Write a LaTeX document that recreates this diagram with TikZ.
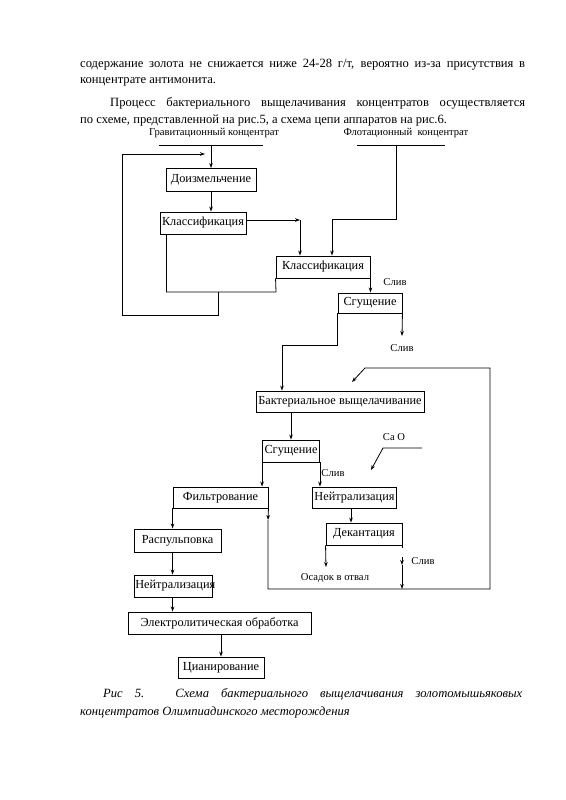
\documentclass[tikz,border=0pt]{standalone}
\usepackage{fontspec}
\setmainfont{Liberation Serif}
\usetikzlibrary{arrows.meta,calc}
\begin{document}
\begin{tikzpicture}[x=1pt,y=-1pt,
  box/.style={draw,line width=0.9pt,inner sep=0pt,font=\fontsize{12.3}{13}\selectfont},
  ln/.style={line width=0.8pt},
  arr/.style={ln,-{Stealth[length=5pt,width=3.6pt]}},
  lbl/.style={font=\fontsize{10.6}{11}\selectfont,inner sep=0pt},
  para/.style={font=\fontsize{12.6}{14}\selectfont,inner sep=0pt,anchor=base west},
  captxt/.style={font=\fontsize{12.6}{14}\selectfont\itshape,inner sep=0pt,anchor=base west}]
\useasboundingbox[fill=white] (0,0) rectangle (565,800);

% --- paragraph text ---
\node[para] (p1) at (80,67) {\makebox[445pt][s]{содержание золота не снижается ниже 24-28 г/т, вероятно из-за присутствия в}};
\node[para] (p2) at (80,84) {концентрате антимонита.};
\node[para] (p3) at (110,106) {\makebox[415pt][s]{Процесс бактериального выщелачивания концентратов осуществляется}};
\node[para] (p4) at (80,123) {по схеме, представленной на рис.5, а схема цепи аппаратов на рис.6.};

% --- feeds ---
\node[lbl] (grav) at (214,133) {Гравитационный концентрат};
\node[lbl] (flot) at (406,133) {Флотационный\ \ концентрат};
\coordinate (gA) at (159,145); \coordinate (gB) at (263,145);
\coordinate (g0) at (211,145);
\draw[ln] (gA) -- (gB);
\coordinate (fA) at (357,145); \coordinate (fB) at (445,145);
\coordinate (f0) at (396,145);
\draw[ln] (fA) -- (fB);

% --- boxes ---
\node[box,minimum width=90pt,minimum height=23pt] (doiz) at (211,180) {Доизмельчение};
\node[box,minimum width=86pt,minimum height=22pt] (kl1) at (203,223) {Классификация};
\node[box,minimum width=94pt,minimum height=22pt] (kl2) at (323,267) {Классификация};
\node[box,minimum width=64pt,minimum height=20pt] (sg1) at (370,303) {Сгущение};
\node[box,minimum width=168pt,minimum height=21pt] (bakt) at (340,401.5) {Бактериальное выщелачивание};
\node[box,minimum width=57pt,minimum height=22pt] (sg2) at (291,451) {Сгущение};
\node[box,minimum width=95pt,minimum height=21pt] (filt) at (220.5,497.5) {Фильтрование};
\node[box,minimum width=84pt,minimum height=21pt] (neut) at (354.5,497.5) {Нейтрализация};
\node[box,minimum width=76pt,minimum height=22pt] (dek) at (364,534) {Декантация};
\node[box,minimum width=87pt,minimum height=23pt] (rasp) at (177.5,540.5) {Распульповка};
\node[box,minimum width=78pt,minimum height=22pt] (neut2) at (173,586) {};
\node[anchor=west,inner sep=0pt,font=\fontsize{12.3}{13}\selectfont] (neut2t) at ([xshift=1.5pt]neut2.west) {Нейтрализация};
\node[box,minimum width=183pt,minimum height=22pt] (elek) at (219.5,623) {Электролитическая обработка};
\node[box,minimum width=86pt,minimum height=21pt] (cian) at (221,667.5) {Цианирование};

% --- labels ---
\node[lbl] (sliv1) at (395,282) {Слив};
\node[lbl] (sliv2) at (402,348) {Слив};
\node[lbl] (cao) at (394,437) {Ca O};
\node[lbl] (sliv3) at (333,473) {Слив};
\node[lbl] (osad) at (335,578) {Осадок в отвал};
\node[lbl] (sliv4) at (423,561) {Слив};

% --- coordinates ---
\coordinate (c1) at (276,292);
\coordinate (c2) at (218,292);
\coordinate (c3) at (122,315);
\coordinate (c4) at (205,154);
\coordinate (c5) at (300,220);
\coordinate (f2) at (332,219);
\coordinate (s1) at (402,336);
\coordinate (c6) at (282,345);
\coordinate (c7) at (268,520);
\coordinate (c8) at (490,589);
\coordinate (c9) at (365,368);
\coordinate (c10) at (352,382);
\coordinate (ca1) at (422,448);
\coordinate (ca2) at (383,448);
\coordinate (ca3) at (371,470);
\coordinate (d1) at (326,567);
\coordinate (d0) at (402,557);
\coordinate (d2) at (402,565);
\coordinate (d3) at (402,589);

% --- connectors ---
\draw[arr] (g0) -- (doiz.north);
\draw[arr] (doiz.south) -- (doiz.south |- kl1.north);
\draw[ln] ([xshift=7pt]kl1.south west) |- (c1) -- (kl2.south west);
\draw[arr] (c2) |- (c3) |- (c4);
\draw[arr] (kl1.east |- c5) -- (c5);
\draw[arr] (c5) -- (c5 |- kl2.north);
\draw[arr] (f0) |- (f2) -- (f2 |- kl2.north);
\draw[arr] (kl2.south east) -- (kl2.south east |- sg1.north);
\draw[arr] (sg1.south east) -- (s1);
\draw[arr] (sg1.south west) |- (c6) -- (c6 |- bakt.north);
\draw[arr] (bakt.south -| sg2.north) -- (sg2.north);
\draw[arr] (sg2.south west) -- (sg2.south west |- filt.north);
\draw[arr] (sg2.south east) -- (sg2.south east |- neut.north);
\draw[arr] (ca1) -- (ca2) -- (ca3);
\draw[arr] (filt.south east) -- (c7);
\draw[arr] (c7) |- (c8) |- (c9) -- (c10);
\draw[arr] ([xshift=-3.5pt]neut.south) -- ([xshift=-3.5pt]neut.south |- dek.north);
\draw[arr] (dek.south west) -- (d1);
\draw[ln] (dek.south east) -- ++(0,3);
\draw[arr] (d0) -- (d2);
\draw[arr] (d2) -- (d3);
\draw[arr] (filt.south west) -- (filt.south west |- rasp.north);
\draw[arr] (rasp.south -| filt.south west) -- (neut2.north -| filt.south west);
\draw[arr] (neut2.south -| filt.south west) -- (elek.north -| filt.south west);
\draw[arr] (elek.south -| cian.north) -- (cian.north);

% --- caption ---
\node[captxt] (cap1) at (103,697) {\makebox[419pt][s]{Рис 5. Схема бактериального выщелачивания золотомышьяковых}};
\node[captxt] (cap2) at (80,715) {концентратов Олимпиадинского месторождения};
\end{tikzpicture}
\end{document}
